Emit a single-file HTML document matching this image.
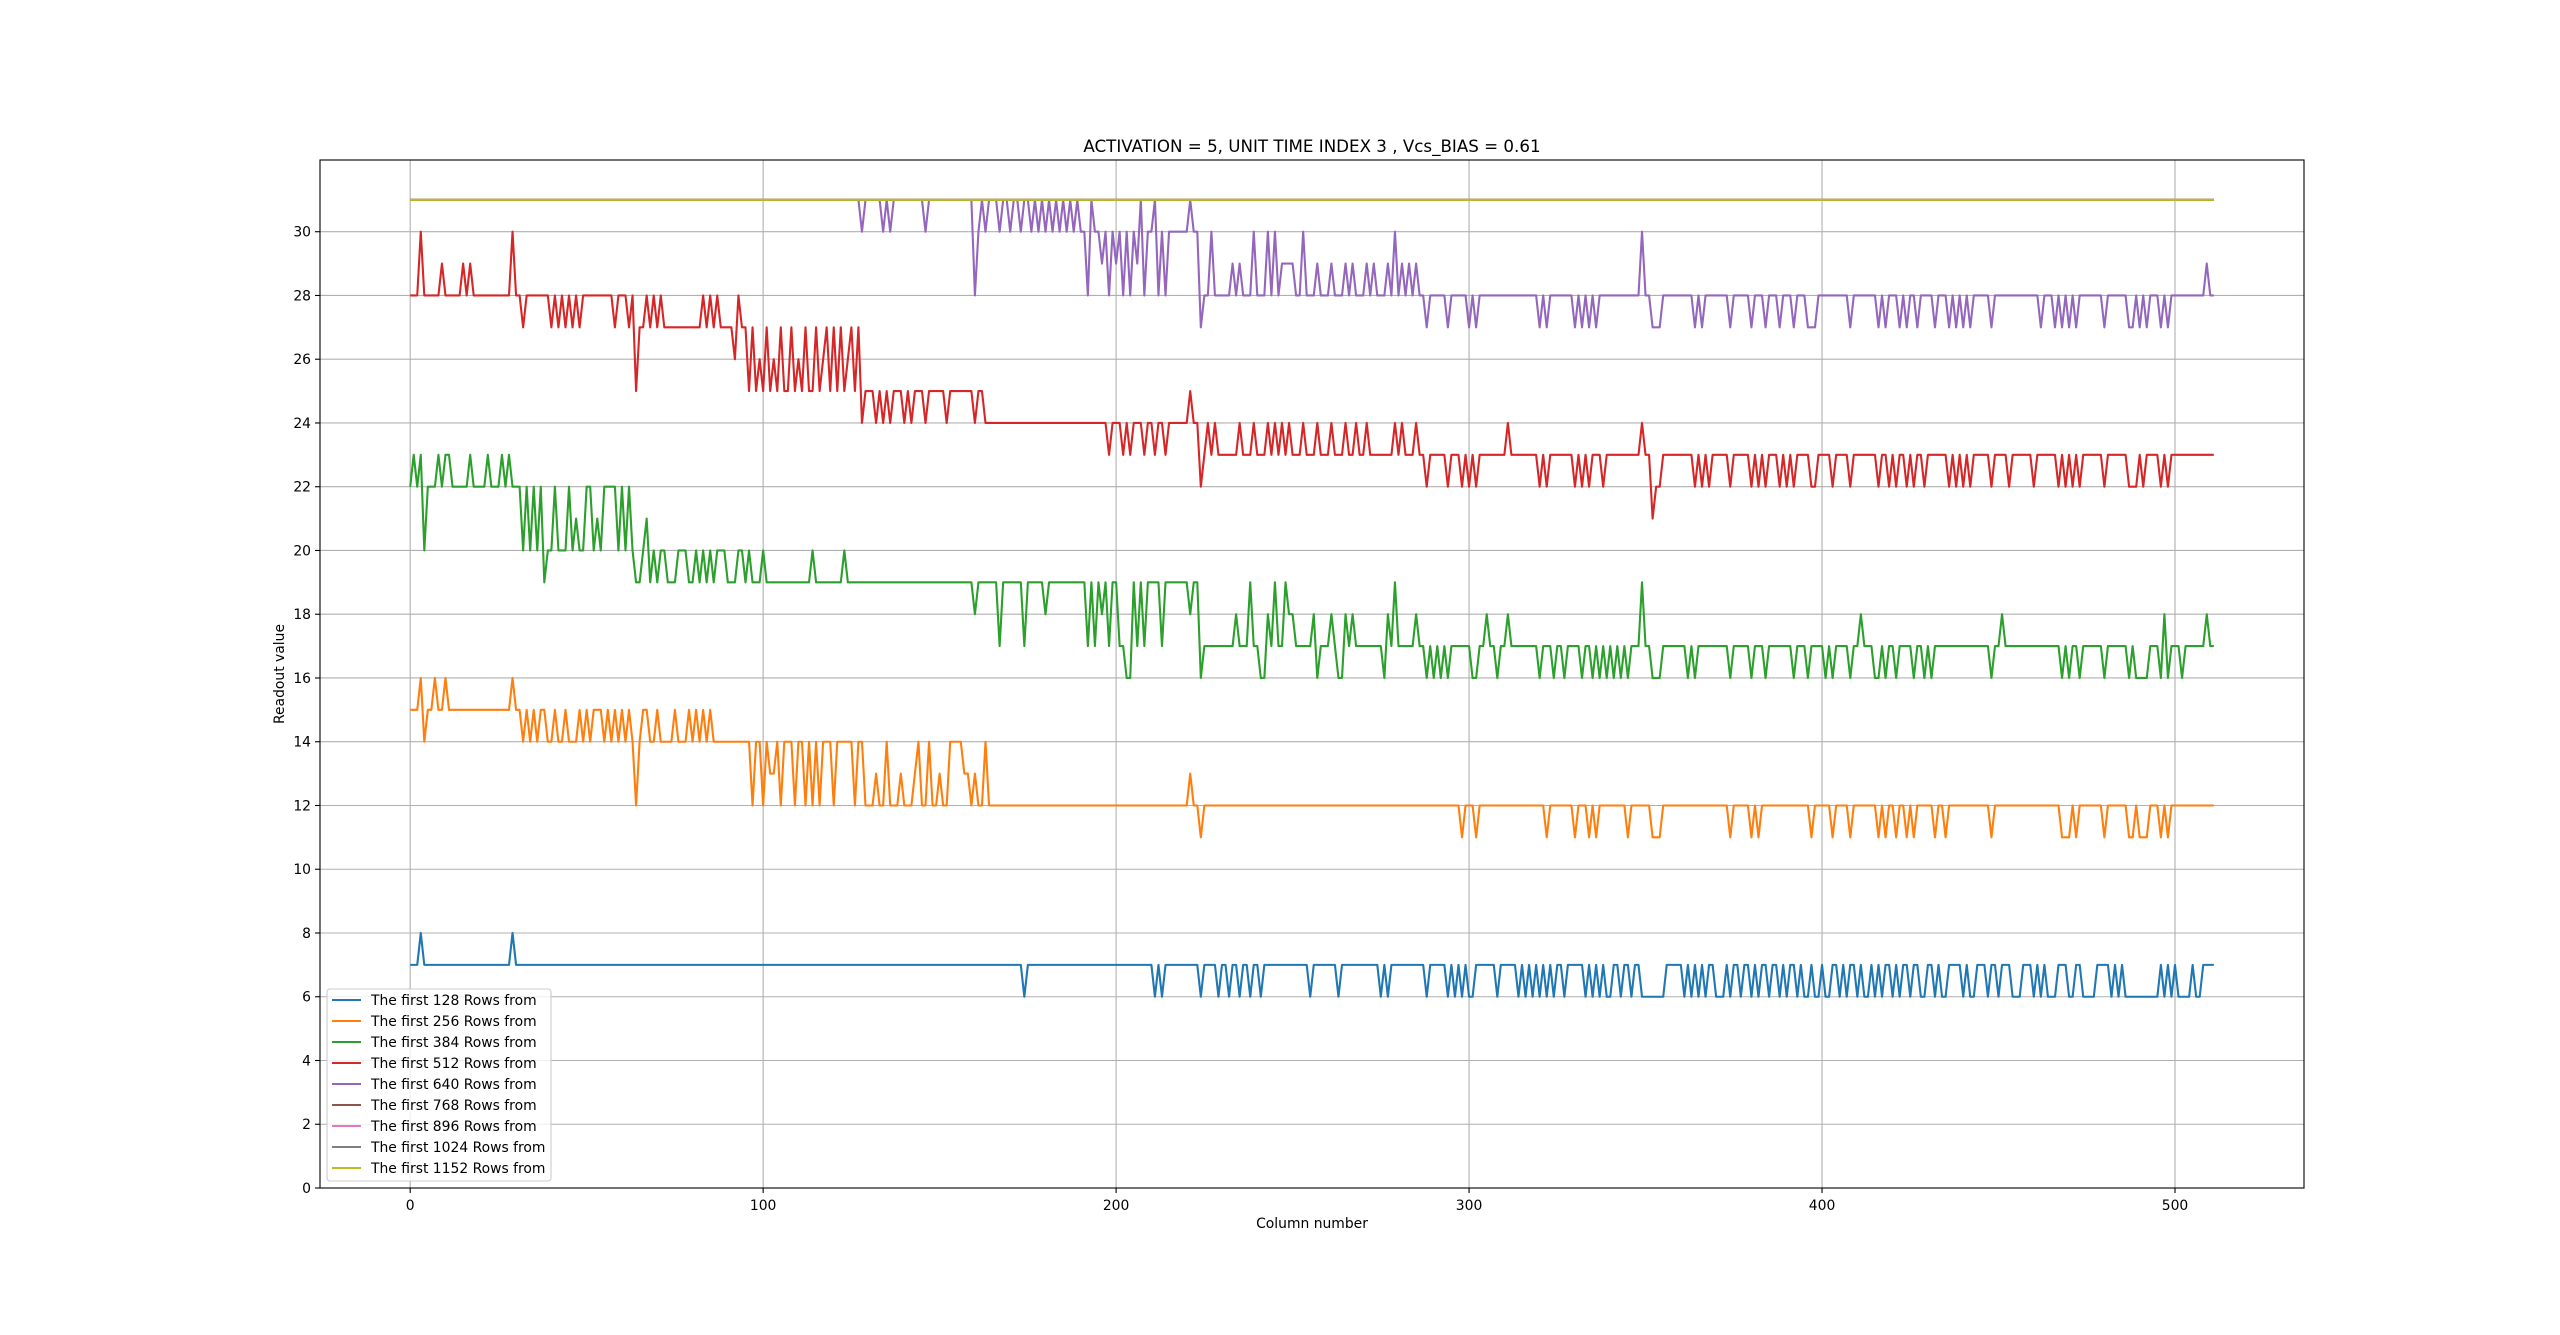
<!DOCTYPE html>
<html><head><meta charset="utf-8"><title>Readout chart</title>
<style>
html,body{margin:0;padding:0;background:#fff;}
svg{display:block;font-family:"DejaVu Sans","Liberation Sans",sans-serif;}
</style></head>
<body>
<svg id="chart" width="2560" height="1335" viewBox="0 0 2560 1335" xmlns="http://www.w3.org/2000/svg">
<rect width="2560" height="1335" fill="#fff"/>
<g id="grid"></g>
<g id="series"></g>
<rect x="320" y="160" width="1984" height="1028" fill="none" stroke="#000" stroke-width="1.1"/>
<g id="ticks"></g>
<text x="1312" y="152" text-anchor="middle" font-size="16.7">ACTIVATION = 5, UNIT TIME INDEX 3 , Vcs_BIAS = 0.61</text>
<text x="1312" y="1228" text-anchor="middle" font-size="13.9">Column number</text>
<text x="284" y="674" text-anchor="middle" font-size="13.9" transform="rotate(-90 284 674)">Readout value</text>
<g id="legend"></g>
</svg>
<script>
// ---- data (change points "column:value"; value holds until next change) ----
const nCols = 512;
const xTicks = [0, 100, 200, 300, 400, 500];
const yTicks = [0, 2, 4, 6, 8, 10, 12, 14, 16, 18, 20, 22, 24, 26, 28, 30];
const seriesNames = ["The first 128 Rows from","The first 256 Rows from","The first 384 Rows from","The first 512 Rows from","The first 640 Rows from","The first 768 Rows from","The first 896 Rows from","The first 1024 Rows from","The first 1152 Rows from"];
const seriesColors = ["#1f77b4","#ff7f0e","#2ca02c","#d62728","#9467bd","#8c564b","#e377c2","#7f7f7f","#bcbd22"];
const rows128 = "0:7 3:8 4:7 29:8 30:7 174:6 175:7 211:6 212:7 213:6 214:7 224:6 225:7 229:6 230:7 232:6 233:7 235:6 236:7 238:6 239:7 241:6 242:7 255:6 256:7 263:6 264:7 275:6 276:7 277:6 278:7 288:6 289:7 294:6 295:7 296:6 297:7 298:6 299:7 300:6 302:7 308:6 309:7 314:6 315:7 316:6 317:7 318:6 319:7 320:6 321:7 322:6 323:7 324:6 325:7 327:6 328:7 333:6 334:7 335:6 336:7 337:6 338:7 339:6 341:7 343:6 344:7 346:6 347:7 349:6 356:7 361:6 362:7 363:6 364:7 365:6 366:7 367:6 368:7 370:6 373:7 374:6 375:7 377:6 378:7 380:6 381:7 382:6 383:7 385:6 386:7 388:6 389:7 390:6 391:7 393:6 394:7 395:6 397:7 398:6 400:7 401:6 403:7 405:6 406:7 407:6 408:7 410:6 411:7 412:6 414:7 415:6 416:7 417:6 418:7 420:6 421:7 422:6 423:7 425:6 426:7 428:6 430:7 432:6 433:7 434:6 436:7 440:6 441:7 442:6 444:7 447:6 448:7 450:6 451:7 454:6 457:7 460:6 461:7 462:6 463:7 464:6 467:7 470:6 472:7 474:6 478:7 482:6 483:7 484:6 485:7 486:6 496:7 497:6 498:7 499:6 500:7 501:6 505:7 506:6 508:7";
const rows256 = "0:15 3:16 4:14 5:15 7:16 8:15 10:16 11:15 29:16 30:15 32:14 33:15 34:14 35:15 36:14 37:15 39:14 41:15 42:14 44:15 45:14 48:15 49:14 50:15 51:14 52:15 55:14 56:15 57:14 58:15 59:14 60:15 61:14 62:15 63:14 64:12 65:14 66:15 67:15 68:14 70:15 71:14 75:15 76:14 79:15 80:14 81:15 82:14 83:15 84:14 85:15 86:14 97:12 98:14 100:12 101:14 102:13 104:14 105:12 106:14 109:12 110:14 112:12 113:14 114:12 115:14 116:12 117:14 120:12 121:14 126:12 127:14 129:12 132:13 133:12 135:14 136:12 139:13 140:12 143:13 144:14 145:12 147:14 148:12 150:13 151:12 153:14 155:14 157:13 159:12 160:13 161:12 163:14 164:12 221:13 222:12 224:11 225:12 298:11 299:12 302:11 303:12 322:11 323:12 330:11 331:12 334:11 335:12 336:11 337:12 345:11 346:12 352:11 355:12 374:11 375:12 380:11 381:12 382:11 383:12 397:11 398:12 403:11 404:12 408:11 409:12 416:11 417:12 418:11 419:12 421:11 422:12 424:11 425:12 426:11 427:12 432:11 433:12 435:11 436:12 448:11 449:12 468:11 471:12 472:11 473:12 480:11 481:12 487:11 489:12 490:11 493:12 496:11 497:12 498:11 499:12";
const rows384 = "0:22 1:23 2:22 3:23 4:20 5:22 8:23 9:22 10:23 12:22 17:23 18:22 22:23 23:22 26:23 27:22 28:23 29:22 32:20 33:22 34:20 35:22 36:20 37:22 38:19 39:20 41:22 42:20 45:22 46:20 47:21 48:20 50:22 52:20 53:21 54:20 55:22 58:22 59:20 60:22 61:20 62:22 63:20 64:19 66:20 67:21 68:19 69:20 70:19 71:20 73:19 76:20 79:19 81:20 82:19 83:20 84:19 85:20 86:19 87:20 90:19 93:20 95:19 96:20 97:19 100:20 101:19 114:20 115:19 123:20 124:19 160:18 161:19 167:17 168:19 174:17 175:19 180:18 181:19 192:17 193:19 194:17 195:19 196:18 197:19 198:17 199:19 201:17 203:16 205:19 206:17 207:19 208:17 209:19 213:17 214:19 221:18 222:19 224:16 225:17 234:18 235:17 238:19 239:17 241:16 243:18 244:17 245:19 246:17 248:19 249:18 251:17 256:18 257:16 258:17 261:18 262:17 263:16 265:18 266:17 267:18 268:17 276:16 277:18 278:17 279:19 280:17 285:18 286:17 288:16 289:17 290:16 291:17 292:16 293:17 294:16 295:17 301:16 303:17 305:18 306:17 308:16 309:17 311:18 312:17 320:16 321:17 324:16 325:17 327:16 328:17 332:16 333:17 335:16 336:17 337:16 338:17 339:16 340:17 341:16 342:17 343:16 344:17 345:16 346:17 349:19 350:17 352:16 355:17 362:16 363:17 364:16 365:17 374:16 375:17 380:16 381:17 384:16 385:17 392:16 393:17 396:16 397:17 401:16 402:17 403:16 404:17 408:16 409:17 411:18 412:17 415:16 417:17 418:16 419:17 421:16 422:17 426:16 427:17 429:16 430:17 431:16 432:17 448:16 449:17 451:18 452:17 468:16 469:17 470:16 471:17 473:16 474:17 480:16 481:17 487:16 488:17 489:16 493:17 496:16 497:18 498:16 499:17 502:16 503:17 509:18 510:17";
const rows512 = "0:28 3:30 4:28 9:29 10:28 15:29 16:28 17:29 18:28 29:30 30:28 32:27 33:28 40:27 41:28 42:27 43:28 44:27 45:28 46:27 47:28 48:27 49:28 58:27 59:28 62:27 63:28 64:25 65:27 67:28 68:27 69:28 70:27 71:28 72:27 83:28 84:27 85:28 86:27 87:28 88:27 92:26 93:28 94:27 96:25 97:27 98:25 99:26 100:25 101:27 102:25 103:26 104:25 105:27 106:25 108:27 109:25 110:26 111:25 112:27 113:25 115:27 116:25 117:26 118:27 119:25 120:27 121:25 122:27 123:25 124:26 125:27 126:25 127:27 128:24 129:25 132:24 133:25 134:24 135:25 136:24 137:25 140:24 141:25 142:24 143:25 146:24 147:25 152:24 153:25 160:24 161:25 163:24 198:23 199:24 202:23 203:24 204:23 205:24 208:23 209:24 211:23 212:24 214:23 215:24 221:25 222:24 224:22 225:23 226:24 227:23 228:24 229:23 235:24 236:23 239:24 240:23 243:24 244:23 245:24 246:23 247:24 248:23 249:24 250:23 253:24 254:23 257:24 258:23 261:24 262:23 265:24 266:23 268:24 269:23 271:24 272:23 279:24 280:23 281:24 282:23 285:24 286:23 288:22 289:23 294:22 295:23 298:22 299:23 300:22 301:23 302:22 303:23 311:24 312:23 320:22 321:23 322:22 323:23 330:22 331:23 332:22 333:23 334:22 335:23 338:22 339:23 349:24 350:23 352:21 353:22 355:23 364:22 365:23 366:22 367:23 368:22 369:23 374:22 375:23 380:22 381:23 382:22 383:23 384:22 385:23 388:22 389:23 390:22 391:23 392:22 393:23 397:22 399:23 403:22 404:23 408:22 409:23 416:22 417:23 419:22 420:23 421:22 422:23 424:22 425:23 426:22 427:23 429:22 430:23 436:22 437:23 438:22 439:23 440:22 441:23 442:22 443:23 448:22 449:23 453:22 454:23 460:22 461:23 467:22 468:23 469:22 470:23 471:22 472:23 473:22 474:23 480:22 481:23 487:22 490:23 491:22 492:23 496:22 497:23 498:22 499:23";
const rows640 = "0:31 128:30 129:31 134:30 135:31 136:30 137:31 146:30 147:31 160:28 161:30 162:31 163:30 164:31 166:31 167:30 168:31 170:30 171:31 173:30 174:31 176:30 177:31 178:30 179:31 180:30 181:31 182:30 183:31 184:30 185:31 186:30 187:31 188:30 189:31 190:30 192:28 193:31 194:30 196:29 197:30 198:28 199:30 200:29 201:30 202:28 203:30 204:28 205:30 206:29 207:31 208:28 209:30 211:31 212:28 213:30 214:28 215:30 221:31 222:30 224:27 225:28 227:30 228:28 233:29 234:28 235:29 236:28 239:30 240:28 243:30 244:28 245:30 246:28 247:29 251:28 253:30 254:28 257:29 258:28 261:29 262:28 265:29 266:28 267:29 268:28 271:29 272:28 273:29 274:28 277:29 278:28 279:30 280:28 281:29 282:28 283:29 284:28 285:29 286:28 288:27 289:28 294:27 295:28 300:27 301:28 302:27 303:28 320:27 321:28 322:27 323:28 330:27 331:28 332:27 333:28 334:27 335:28 336:27 337:28 349:30 350:28 352:27 355:28 364:27 365:28 366:27 367:28 374:27 375:28 380:27 381:28 384:27 385:28 388:27 389:28 392:27 393:28 396:27 399:28 408:27 409:28 416:27 417:28 418:27 419:28 422:27 423:28 424:27 425:28 427:27 428:28 432:27 433:28 436:27 437:28 438:27 439:28 440:27 441:28 442:27 443:28 448:27 449:28 462:27 463:28 466:27 467:28 468:27 469:28 470:27 471:28 472:27 473:28 480:27 481:28 487:27 489:28 490:27 491:28 492:27 493:28 496:27 497:28 498:27 499:28 509:29 510:28";
const rows768 = "0:31";
const rows896 = "0:31";
const rows1024 = "0:31";
const rows1152 = "0:31";
const seriesData = [rows128, rows256, rows384, rows512, rows640, rows768, rows896, rows1024, rows1152];

// ---- axes ----
const X0 = 320, X1 = 2304, Y0 = 1188, Y1 = 160;
const xMin = -25.55, xMax = 536.55, yMin = 0, yMax = 32.25;
function xs(v){ return X0 + (v - xMin) / (xMax - xMin) * (X1 - X0); }
function ys(v){ return Y0 - (v - yMin) / (yMax - yMin) * (Y0 - Y1); }
function expand(str){
  const pts = str.trim().split(/\s+/).map(t => t.split(':').map(Number));
  const out = [];
  for (let i = 0; i < pts.length; i++){
    const end = i + 1 < pts.length ? pts[i+1][0] : nCols;
    for (let c = pts[i][0]; c < end; c++) out[c] = pts[i][1];
  }
  return out;
}
const NS = "http://www.w3.org/2000/svg";
function mk(tag, attrs, parent){
  const e = document.createElementNS(NS, tag);
  for (const k in attrs) e.setAttribute(k, attrs[k]);
  parent.appendChild(e); return e;
}
const grid = document.getElementById('grid');
const ticks = document.getElementById('ticks');
xTicks.forEach(t => {
  const x = xs(t);
  const g = mk('line', {x1:x, x2:x, y1:Y1, y2:Y0, stroke:'#b0b0b0', 'stroke-width':1.1}, grid);
  
  
  const tk = mk('line', {x1:x, x2:x, y1:Y0, y2:Y0+5, stroke:'#000', 'stroke-width':1.1}, ticks);
  
  
  const lb = mk('text', {x:x, y:Y0+22, 'text-anchor':'middle', 'font-size':13.9}, ticks);
  lb.textContent = t;
  
  
});
yTicks.forEach(t => {
  const y = ys(t);
  const g = mk('line', {x1:X0, x2:X1, y1:y, y2:y, stroke:'#b0b0b0', 'stroke-width':1.1}, grid);
  
  
  const tk = mk('line', {x1:X0-5, x2:X0, y1:y, y2:y, stroke:'#000', 'stroke-width':1.1}, ticks);
  
  
  const lb = mk('text', {x:X0-9, y:y+5, 'text-anchor':'end', 'font-size':13.9}, ticks);
  lb.textContent = t;
  
  
});
const sg = document.getElementById('series');
seriesData.forEach((s, i) => {
  const vals = expand(s);
  const d = vals.map((v, c) => (c ? 'L' : 'M') + xs(c).toFixed(2) + ' ' + ys(v).toFixed(2)).join(' ');
  const p = mk('path', {d:d, fill:'none', stroke:seriesColors[i], 'stroke-width':2.1, 'stroke-linejoin':'round'}, sg);
  
  
});
// legend
const lg = document.getElementById('legend');
const box = mk('rect', {x:327, y:989, width:224, height:192, rx:3, fill:'#fff', 'fill-opacity':0.8, stroke:'#ccc', 'stroke-width':1.1}, lg);


seriesNames.forEach((n, i) => {
  const y = 1000 + i * 21;
  const ln = mk('line', {x1:332, x2:361, y1:y, y2:y, stroke:seriesColors[i], 'stroke-width':2.1}, lg);
  
  
  const tx = mk('text', {x:371, y:y+5, 'font-size':13.9}, lg);
  tx.textContent = n;
  
  
});
</script>
</body></html>
